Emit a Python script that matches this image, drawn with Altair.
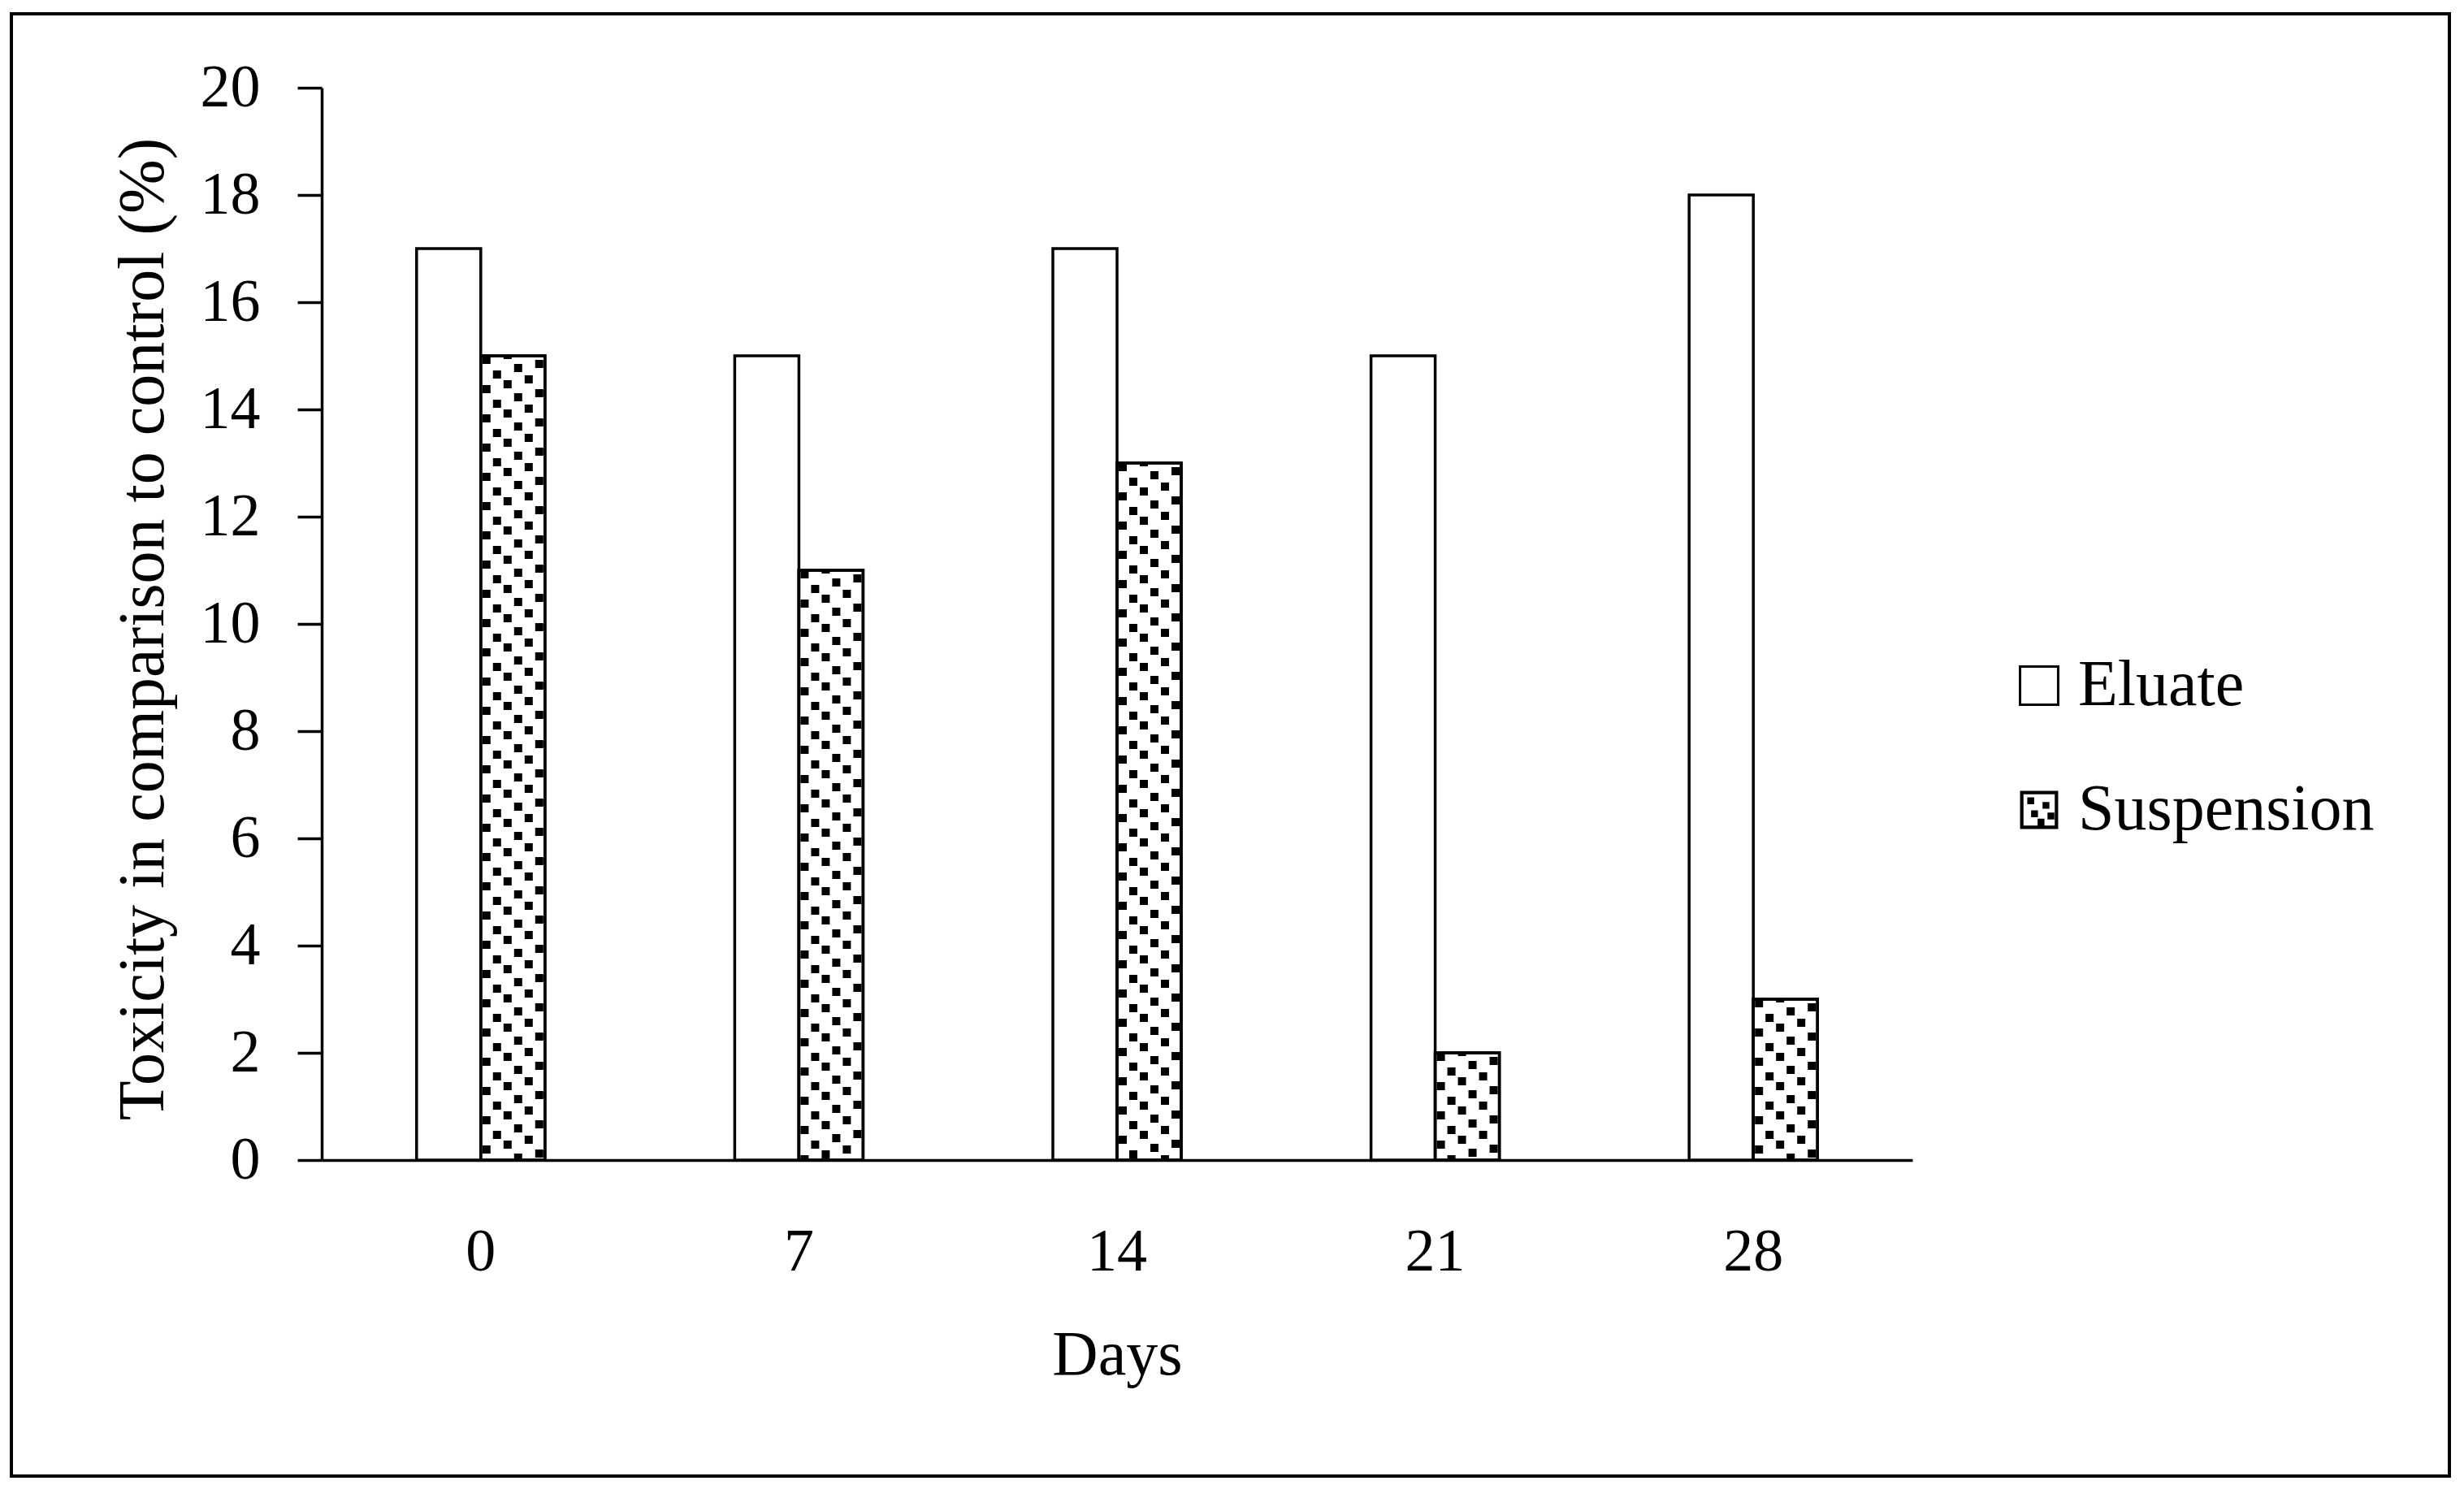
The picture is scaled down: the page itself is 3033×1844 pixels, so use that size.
import altair as alt
import pandas as pd

# ---- data ----
days = ["0", "7", "14", "21", "28"]
series = ["Eluate", "Suspension"]
eluate = [17, 15, 17, 15, 18]
suspension = [15, 11, 13, 2, 3]
y_ticks = [0, 2, 4, 6, 8, 10, 12, 14, 16, 18, 20]
x_title = "Days"
y_title = "Toxicity in comparison to control (%)"

df = pd.DataFrame({
    "Days": days + days,
    "Series": [series[0]] * len(days) + [series[1]] * len(days),
    "Value": eluate + suspension,
})
legend_df = pd.DataFrame({"Series": series})
frame_df = pd.DataFrame({"frame": [0]})

FONT = "Liberation Serif"
W, H = 1958, 1320
PAD_IN = 0.5965
LW = 3.5

x_enc = alt.X(
    "Days:N", sort=days,
    scale=alt.Scale(domain=days, paddingInner=PAD_IN, paddingOuter=PAD_IN / 2),
    axis=alt.Axis(
        title=x_title, labelAngle=0, ticks=False, grid=False,
        domainColor="black", domainWidth=LW,
        labelFont=FONT, labelFontSize=74, labelColor="black",
        labelBaseline="alphabetic", labelPadding=135,
        titleFont=FONT, titleFontSize=78, titleFontWeight="normal", titleColor="black",
        titleBaseline="alphabetic", titleY=263,
    ),
)
y_enc = alt.Y(
    "Value:Q",
    scale=alt.Scale(domain=[0, 20], nice=False),
    axis=alt.Axis(
        title=y_title, values=y_ticks, ticks=True, tickSize=30, tickWidth=LW, tickColor="black",
        grid=False, domainColor="black", domainWidth=LW,
        labelFont=FONT, labelFontSize=74, labelColor="black", labelPadding=46,
        titleFont=FONT, titleFontSize=80, titleFontWeight="normal", titleColor="black",
        titleAngle=270, titleBaseline="alphabetic", titleAlign="center",
        titleX=-196, titleY=666,
    ),
)
off_enc = alt.XOffset(
    "Series:N", sort=series,
    scale=alt.Scale(domain=series, paddingInner=0, paddingOuter=0),
)

susp = alt.datum.Series == series[1]

bars = alt.Chart(df).mark_bar(fill="white", stroke="black", strokeWidth=LW).encode(
    x=x_enc, xOffset=off_enc, y=y_enc
)

# dotted fill of the Suspension bars: dashed columns inside each bar
dash_columns = [(7, 0), (20, 18), (33, 6), (46, 26), (59, 12), (72, 31)]
pattern_layers = [
    alt.Chart(df).transform_filter(susp).mark_rule(
        stroke="black", strokeWidth=10, strokeDash=[10, 26],
        strokeDashOffset=off, xOffset=dx,
    ).encode(x=x_enc, y=y_enc, y2=alt.datum(0))
    for dx, off in dash_columns
]

outline = alt.Chart(df).transform_filter(susp).mark_bar(
    fill="transparent", stroke="black", strokeWidth=LW
).encode(x=x_enc, xOffset=off_enc, y=y_enc)

# legend with custom symbols
sq_path = "M-1,-1H1V1H-1Z"
dots = [(-0.62, -0.66), (0.18, -0.42), (-0.42, 0.02), (0.44, 0.14), (-0.08, 0.46)]
pat_path = "M-1,-1H1V1H-1Z M-0.82,-0.82V0.82H0.82V-0.82Z " + " ".join(
    f"M{x:.2f},{y:.2f}h0.36v0.36h-0.36Z" for x, y in dots
)
leg = alt.Legend(
    title=None, orient="none", legendX=2074, legendY=696, direction="vertical",
    symbolSize=2200, symbolStrokeWidth=3, symbolOpacity=1,
    labelFont=FONT, labelFontSize=80, labelColor="black", labelOffset=8,
    labelLimit=1000, rowPadding=73, padding=0,
)
legend_layer = alt.Chart(legend_df).mark_point(filled=True, opacity=0).encode(
    shape=alt.Shape("Series:N", sort=series,
                    scale=alt.Scale(domain=series, range=[sq_path, pat_path]), legend=leg),
    fill=alt.Fill("Series:N", sort=series,
                  scale=alt.Scale(domain=series, range=["white", "black"]), legend=leg),
    stroke=alt.Stroke("Series:N", sort=series,
                      scale=alt.Scale(domain=series, range=["black", "transparent"]), legend=leg),
)

frame = alt.Chart(frame_df).mark_rect(fill="transparent", stroke="black", strokeWidth=4).encode(
    x=alt.value(-382), x2=alt.value(2619), y=alt.value(-91), y2=alt.value(1709)
)

chart = alt.layer(frame, bars, *pattern_layers, outline, legend_layer).properties(
    width=W, height=H,
    padding={"left": 388, "top": 100, "right": 671, "bottom": 408},
    autosize=alt.AutoSizeParams(type="none"),
    background="white",
).configure_view(stroke="transparent")

chart.save("out.html", embed_options={"renderer": "svg", "actions": False})
